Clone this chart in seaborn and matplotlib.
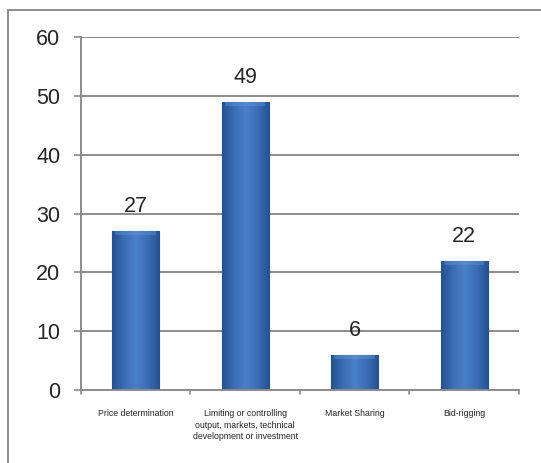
import matplotlib
matplotlib.use("Agg")
import matplotlib.pyplot as plt
import seaborn as sns
import pandas as pd
import numpy as np
from matplotlib.lines import Line2D
from matplotlib.colors import LinearSegmentedColormap

categories = ["Price determination",
              "Limiting or controlling\noutput, markets, technical\ndevelopment or investment",
              "Market Sharing", "Bid-rigging"]
values = [27, 49, 6, 22]
yticks = [0, 10, 20, 30, 40, 50, 60]

sns.set_theme(style="white")
plt.rcParams['font.family'] = ['Liberation Sans', 'DejaVu Sans']

df = pd.DataFrame({"cat": categories, "val": values})
fig = plt.figure(figsize=(5.41, 4.63), dpi=100)
ax = fig.add_axes([0.1497, 0.1577, 0.8096, 0.7623])

sns.barplot(data=df, x="cat", y="val", ax=ax, color="#3b6fb8", width=0.43,
            edgecolor="#274f8c", linewidth=0.8, saturation=1)

ax.set_ylim(0, 60)
ax.set_xlim(-0.5, 3.5)
ax.set_yticks(yticks)
ax.set_yticklabels([str(t) for t in yticks], fontsize=15.5)
ax.set_xlabel("")
ax.set_ylabel("")
ax.tick_params(axis="x", labelsize=6.3, length=0, pad=14)
for lbl in ax.get_xticklabels():
    lbl.set_linespacing(1.3)
ax.tick_params(axis="y", length=5, width=1.2, color="#8c8c8c", left=True, pad=10)
ax.yaxis.grid(True, color="#8c8c8c", linewidth=1.4)
ax.set_axisbelow(True)
for s in ["top", "right"]:
    ax.spines[s].set_visible(False)
for s in ["left", "bottom"]:
    ax.spines[s].set_color("#8c8c8c")
    ax.spines[s].set_linewidth(1.4)

# category boundary ticks on x axis
for b in [-0.5, 0.5, 1.5, 2.5, 3.5]:
    ax.plot([b, b], [0, -0.6], color="#8c8c8c", lw=1.2, clip_on=False)

# gradient fill for bars
cmap = LinearSegmentedColormap.from_list(
    "bev", ["#24508f", "#3a6db5", "#4a80c8", "#3a6db5", "#24508f"])
grad = np.linspace(0, 1, 256).reshape(1, -1)
for p in ax.patches:
    x0, w, h = p.get_x(), p.get_width(), p.get_height()
    im = ax.imshow(grad, cmap=cmap, aspect="auto",
                   extent=[x0, x0 + w, 0, h], zorder=p.get_zorder() + 0.1)
    im.set_clip_path(p)
    # subtle lighter top bevel
    ax.fill_between([x0 + 0.03, x0 + w - 0.03], h - 0.7, h, color="#6a9fe0",
                    alpha=0.35, zorder=p.get_zorder() + 0.2, linewidth=0)
ax.set_ylim(0, 60)
ax.set_xlim(-0.5, 3.5)

for p, v in zip(ax.patches, values):
    ax.annotate(str(v), (p.get_x() + p.get_width() / 2, v),
                xytext=(0, 10), textcoords="offset points",
                ha="center", va="bottom", fontsize=15.5)

fig.add_artist(Line2D([0.0148, 1.0], [0.978, 0.978], color="#8c8c8c", lw=1.4,
                      transform=fig.transFigure))
fig.add_artist(Line2D([0.0148, 0.0148], [0.0, 0.978], color="#8c8c8c", lw=1.4,
                      transform=fig.transFigure))

fig.savefig("out.png", dpi=100)
